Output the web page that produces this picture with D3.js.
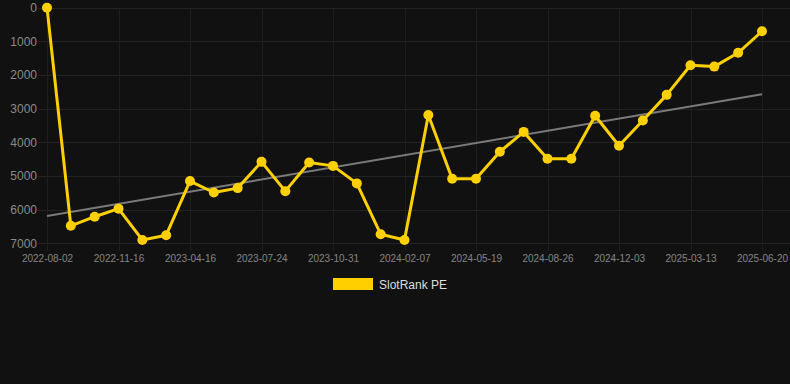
<!DOCTYPE html>
<html>
<head>
<meta charset="utf-8">
<script src="https://cdn.jsdelivr.net/npm/d3@7"></script>
<style>
  html, body { margin: 0; padding: 0; background: #111111; }
  svg { display: block; font-family: "Liberation Sans", Arial, sans-serif; }
</style>
</head>
<body>
<svg id="chart" width="790" height="384"></svg>
<script>
// rank values, one per observation (lower is better, axis is reversed)
const rankValues = [
  0, 6480, 6210, 5970, 6900, 6760, 5150, 5490, 5360, 4580,
  5450, 4600, 4700, 5220, 6730, 6900, 3190, 5080, 5080, 4280,
  3690, 4490, 4490, 3210, 4100, 3350, 2590, 1710, 1750, 1340,
  700
];
// trend line values at first and last point
const trendValues = [6190, 2570];
const tickLabels = [
  '2022-08-02', '2022-11-16', '2023-04-16', '2023-07-24', '2023-10-31',
  '2024-02-07', '2024-05-19', '2024-08-26', '2024-12-03', '2025-03-13', '2025-06-20'
];
const yTicks = [0, 1000, 2000, 3000, 4000, 5000, 6000, 7000];
const seriesName = 'SlotRank PE';

const svg = d3.select('#chart');
const plotLeft = 47, plotRight = 762, plotTop = 7.7, plotBottom = 243.3;

const x = d3.scalePoint()
  .domain(d3.range(rankValues.length))
  .range([plotLeft, plotRight]);

const y = d3.scaleLinear()
  .domain([0, 7000])
  .range([plotTop, plotBottom]);

const tickIdx = tickLabels.map((d, i) => i * 3);

// grid
svg.append('g')
  .selectAll('line')
  .data(yTicks)
  .join('line')
  .attr('x1', 38).attr('x2', 790)
  .attr('y1', d => Math.round(y(d)) + 0.5).attr('y2', d => Math.round(y(d)) + 0.5)
  .attr('stroke', '#232323')
  .attr('stroke-width', 1);

svg.append('g')
  .selectAll('line')
  .data(tickIdx)
  .join('line')
  .attr('x1', d => Math.round(x(d)) + 0.5).attr('x2', d => Math.round(x(d)) + 0.5)
  .attr('y1', plotTop).attr('y2', 251)
  .attr('stroke', '#1f1f1f')
  .attr('stroke-width', 1);

// y axis labels
const yAxis = d3.axisLeft(y)
  .tickValues(yTicks)
  .tickFormat(d3.format('d'))
  .tickSize(0)
  .tickPadding(0);
svg.append('g')
  .attr('transform', 'translate(37,0)')
  .call(yAxis)
  .call(g => g.select('.domain').remove())
  .call(g => g.selectAll('text')
    .attr('fill', '#8a8a8a')
    .style('font-size', '12px')
    .style('font-family', '"Liberation Sans", Arial, sans-serif'));

// x axis labels
const xAxis = d3.axisBottom(x)
  .tickValues(tickIdx)
  .tickFormat((d, i) => tickLabels[i])
  .tickSize(0)
  .tickPadding(0);
svg.append('g')
  .attr('transform', 'translate(0,255)')
  .call(xAxis)
  .call(g => g.select('.domain').remove())
  .call(g => g.selectAll('text')
    .attr('fill', '#858585')
    .style('font-size', '10px')
    .style('font-family', '"Liberation Sans", Arial, sans-serif'));

// trend line
svg.append('line')
  .attr('x1', x(0)).attr('x2', x(rankValues.length - 1))
  .attr('y1', y(trendValues[0])).attr('y2', y(trendValues[1]))
  .attr('stroke', '#7a7a7a')
  .attr('stroke-width', 2);

// series
const line = d3.line()
  .x((d, i) => x(i))
  .y(d => y(d));

svg.append('path')
  .datum(rankValues)
  .attr('d', line)
  .attr('fill', 'none')
  .attr('stroke', '#FFD000')
  .attr('stroke-width', 3)
  .attr('stroke-linejoin', 'round');

svg.append('g')
  .selectAll('circle')
  .data(rankValues)
  .join('circle')
  .attr('cx', (d, i) => x(i))
  .attr('cy', d => y(d))
  .attr('r', 5)
  .attr('fill', '#FFD000');

// legend
const legend = svg.append('g').attr('transform', 'translate(333,278)');
legend.append('rect')
  .attr('width', 40).attr('height', 12)
  .attr('fill', '#FFD000');
legend.append('text')
  .attr('x', 46).attr('y', 10.5)
  .attr('fill', '#dddddd')
  .style('font-size', '12px')
  .text(seriesName);
</script>
</body>
</html>
